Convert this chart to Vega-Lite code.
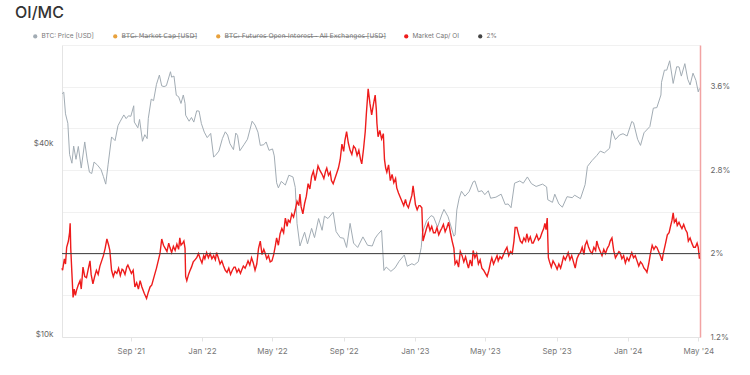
{
  "$schema": "https://vega.github.io/schema/vega-lite/v6.json",
  "width": 638,
  "height": 292,
  "autosize": {"type": "none"},
  "padding": {"left": 62, "top": 45, "right": 50, "bottom": 38},
  "background": "white",
  "config": {"view": {"stroke": null}, "font": "Inter"},
  "title": {"text": "OI/MC", "anchor": "start", "frame": "group", "dx": -47, "dy": 7, "offset": 6, "baseline": "alphabetic", "fontSize": 16, "fontWeight": 500, "color": "#333"},
  "datasets": {
    "price": [
      {"date":"2021-05-06","price":57500},{"date":"2021-05-09","price":58200},{"date":"2021-05-12","price":49700},{"date":"2021-05-16","price":46400},{"date":"2021-05-19","price":37000},{"date":"2021-05-23","price":34700},{"date":"2021-05-26","price":39300},{"date":"2021-05-30","price":35700},{"date":"2021-06-03","price":39200},{"date":"2021-06-08","price":33500},{"date":"2021-06-14","price":40500},{"date":"2021-06-18","price":35800},{"date":"2021-06-22","price":32500},{"date":"2021-06-26","price":32200},{"date":"2021-06-30","price":35000},{"date":"2021-07-06","price":34200},{"date":"2021-07-12","price":33100},{"date":"2021-07-16","price":31500},{"date":"2021-07-20","price":29800},{"date":"2021-07-24","price":34300},{"date":"2021-07-30","price":42000},{"date":"2021-08-05","price":40900},{"date":"2021-08-10","price":45600},{"date":"2021-08-14","price":47100},{"date":"2021-08-20","price":49300},{"date":"2021-08-24","price":48000},{"date":"2021-08-28","price":49000},{"date":"2021-09-01","price":48800},{"date":"2021-09-06","price":52700},{"date":"2021-09-07","price":46800},{"date":"2021-09-13","price":44900},{"date":"2021-09-16","price":47700},{"date":"2021-09-21","price":40700},{"date":"2021-09-25","price":42700},{"date":"2021-09-29","price":41500},{"date":"2021-10-01","price":48100},{"date":"2021-10-06","price":55300},{"date":"2021-10-10","price":54700},{"date":"2021-10-15","price":61600},{"date":"2021-10-20","price":65900},{"date":"2021-10-24","price":60900},{"date":"2021-10-28","price":60600},{"date":"2021-11-01","price":61000},{"date":"2021-11-08","price":67500},{"date":"2021-11-10","price":64900},{"date":"2021-11-14","price":65400},{"date":"2021-11-18","price":56900},{"date":"2021-11-22","price":56300},{"date":"2021-11-26","price":53600},{"date":"2021-11-30","price":57000},{"date":"2021-12-03","price":53600},{"date":"2021-12-04","price":49200},{"date":"2021-12-10","price":47100},{"date":"2021-12-14","price":48400},{"date":"2021-12-18","price":46800},{"date":"2021-12-23","price":50800},{"date":"2021-12-27","price":50700},{"date":"2021-12-31","price":46300},
      {"date":"2022-01-05","price":43500},{"date":"2022-01-10","price":41800},{"date":"2022-01-16","price":43100},{"date":"2022-01-21","price":36300},{"date":"2022-01-24","price":36700},{"date":"2022-01-30","price":37900},{"date":"2022-02-05","price":41500},{"date":"2022-02-10","price":43600},{"date":"2022-02-14","price":42600},{"date":"2022-02-18","price":40000},{"date":"2022-02-24","price":38300},{"date":"2022-02-28","price":43200},{"date":"2022-03-03","price":42500},{"date":"2022-03-07","price":38000},{"date":"2022-03-14","price":39700},{"date":"2022-03-20","price":41300},{"date":"2022-03-28","price":47100},{"date":"2022-04-02","price":45800},{"date":"2022-04-07","price":43500},{"date":"2022-04-11","price":39500},{"date":"2022-04-17","price":39700},{"date":"2022-04-21","price":40500},{"date":"2022-04-26","price":38100},{"date":"2022-05-02","price":38500},{"date":"2022-05-05","price":36600},{"date":"2022-05-09","price":30100},{"date":"2022-05-12","price":29000},{"date":"2022-05-17","price":30400},{"date":"2022-05-24","price":29600},{"date":"2022-05-30","price":31800},{"date":"2022-06-06","price":31400},{"date":"2022-06-10","price":29100},{"date":"2022-06-13","price":22400},{"date":"2022-06-18","price":19000},{"date":"2022-06-22","price":20000},{"date":"2022-06-26","price":21000},{"date":"2022-07-01","price":19300},{"date":"2022-07-08","price":21600},{"date":"2022-07-13","price":20200},{"date":"2022-07-20","price":23200},{"date":"2022-07-26","price":21300},{"date":"2022-07-30","price":23600},{"date":"2022-08-05","price":23200},{"date":"2022-08-14","price":24300},{"date":"2022-08-19","price":21100},{"date":"2022-08-26","price":20200},{"date":"2022-09-01","price":20100},{"date":"2022-09-06","price":18800},{"date":"2022-09-12","price":22400},{"date":"2022-09-18","price":19400},{"date":"2022-09-25","price":18800},{"date":"2022-10-04","price":20300},{"date":"2022-10-12","price":19100},{"date":"2022-10-20","price":19000},{"date":"2022-10-25","price":20100},{"date":"2022-10-29","price":20600},{"date":"2022-11-05","price":21300},{"date":"2022-11-09","price":15900},{"date":"2022-11-13","price":16300},{"date":"2022-11-21","price":15800},{"date":"2022-11-28","price":16200},{"date":"2022-12-05","price":17000},{"date":"2022-12-14","price":17800},{"date":"2022-12-19","price":16400},{"date":"2022-12-27","price":16700},{"date":"2022-12-31","price":16550},
      {"date":"2023-01-07","price":16950},{"date":"2023-01-12","price":18800},{"date":"2023-01-14","price":20900},{"date":"2023-01-21","price":22800},{"date":"2023-01-29","price":23700},{"date":"2023-02-02","price":23500},{"date":"2023-02-09","price":21800},{"date":"2023-02-16","price":23800},{"date":"2023-02-20","price":24800},{"date":"2023-02-27","price":23500},{"date":"2023-03-09","price":20400},{"date":"2023-03-11","price":20600},{"date":"2023-03-14","price":24700},{"date":"2023-03-18","price":26900},{"date":"2023-03-22","price":28300},{"date":"2023-03-28","price":27300},{"date":"2023-04-04","price":28200},{"date":"2023-04-11","price":30300},{"date":"2023-04-14","price":30500},{"date":"2023-04-20","price":28200},{"date":"2023-04-26","price":28400},{"date":"2023-05-01","price":27600},{"date":"2023-05-07","price":28400},{"date":"2023-05-11","price":26900},{"date":"2023-05-20","price":27100},{"date":"2023-05-29","price":27700},{"date":"2023-06-05","price":25700},{"date":"2023-06-10","price":25800},{"date":"2023-06-15","price":25100},{"date":"2023-06-21","price":30000},{"date":"2023-06-30","price":30500},{"date":"2023-07-06","price":30000},{"date":"2023-07-13","price":31400},{"date":"2023-07-20","price":29900},{"date":"2023-07-28","price":29300},{"date":"2023-08-08","price":29800},{"date":"2023-08-15","price":29200},{"date":"2023-08-17","price":26600},{"date":"2023-08-25","price":26100},{"date":"2023-08-29","price":27700},{"date":"2023-09-05","price":25800},{"date":"2023-09-11","price":25200},{"date":"2023-09-19","price":27200},{"date":"2023-09-28","price":27000},{"date":"2023-10-02","price":27500},{"date":"2023-10-12","price":26800},{"date":"2023-10-20","price":29700},{"date":"2023-10-24","price":33900},{"date":"2023-11-01","price":35400},{"date":"2023-11-09","price":36700},{"date":"2023-11-15","price":37900},{"date":"2023-11-22","price":37400},{"date":"2023-12-01","price":38700},{"date":"2023-12-05","price":44000},{"date":"2023-12-11","price":41200},{"date":"2023-12-18","price":42600},{"date":"2023-12-24","price":43000},{"date":"2023-12-31","price":42300},
      {"date":"2024-01-08","price":47000},{"date":"2024-01-11","price":46600},{"date":"2024-01-18","price":41300},{"date":"2024-01-23","price":39500},{"date":"2024-01-29","price":43300},{"date":"2024-02-08","price":45300},{"date":"2024-02-14","price":51800},{"date":"2024-02-20","price":52000},{"date":"2024-02-27","price":57000},{"date":"2024-02-28","price":62500},{"date":"2024-03-04","price":68300},{"date":"2024-03-08","price":68300},{"date":"2024-03-13","price":73100},{"date":"2024-03-19","price":62000},{"date":"2024-03-25","price":70000},{"date":"2024-03-29","price":69900},{"date":"2024-04-02","price":65400},{"date":"2024-04-08","price":71600},{"date":"2024-04-13","price":63900},{"date":"2024-04-17","price":61300},{"date":"2024-04-22","price":66800},{"date":"2024-04-27","price":63400},{"date":"2024-05-01","price":58300},{"date":"2024-05-03","price":59800}
    ],
    "ratio": [
      {"date":"2021-05-06","oi_mc":1.86},{"date":"2021-05-07","oi_mc":1.84},{"date":"2021-05-10","oi_mc":1.95},{"date":"2021-05-12","oi_mc":1.90},{"date":"2021-05-14","oi_mc":2.06},{"date":"2021-05-17","oi_mc":2.12},{"date":"2021-05-19","oi_mc":2.20},{"date":"2021-05-20","oi_mc":2.29},{"date":"2021-05-21","oi_mc":2.05},{"date":"2021-05-23","oi_mc":1.81},{"date":"2021-05-25","oi_mc":1.58},{"date":"2021-05-27","oi_mc":1.66},{"date":"2021-05-29","oi_mc":1.60},{"date":"2021-05-31","oi_mc":1.65},{"date":"2021-06-03","oi_mc":1.70},{"date":"2021-06-06","oi_mc":1.74},{"date":"2021-06-08","oi_mc":1.66},{"date":"2021-06-11","oi_mc":1.87},{"date":"2021-06-14","oi_mc":1.78},{"date":"2021-06-17","oi_mc":1.77},{"date":"2021-06-20","oi_mc":1.85},{"date":"2021-06-23","oi_mc":1.93},{"date":"2021-06-25","oi_mc":1.80},{"date":"2021-06-28","oi_mc":1.71},{"date":"2021-07-01","oi_mc":1.78},{"date":"2021-07-04","oi_mc":1.84},{"date":"2021-07-07","oi_mc":1.80},{"date":"2021-07-10","oi_mc":1.88},{"date":"2021-07-13","oi_mc":1.93},{"date":"2021-07-16","oi_mc":1.98},{"date":"2021-07-19","oi_mc":2.05},{"date":"2021-07-22","oi_mc":2.14},{"date":"2021-07-25","oi_mc":2.08},{"date":"2021-07-27","oi_mc":2.03},{"date":"2021-07-30","oi_mc":1.84},{"date":"2021-08-02","oi_mc":1.78},{"date":"2021-08-05","oi_mc":1.83},{"date":"2021-08-08","oi_mc":1.81},{"date":"2021-08-11","oi_mc":1.86},{"date":"2021-08-14","oi_mc":1.79},{"date":"2021-08-17","oi_mc":1.85},{"date":"2021-08-19","oi_mc":1.84},{"date":"2021-08-22","oi_mc":1.80},{"date":"2021-08-25","oi_mc":1.87},{"date":"2021-08-27","oi_mc":1.89},{"date":"2021-08-30","oi_mc":1.85},{"date":"2021-09-02","oi_mc":1.81},{"date":"2021-09-05","oi_mc":1.84},{"date":"2021-09-08","oi_mc":1.68},{"date":"2021-09-11","oi_mc":1.72},{"date":"2021-09-14","oi_mc":1.66},{"date":"2021-09-17","oi_mc":1.74},{"date":"2021-09-20","oi_mc":1.68},{"date":"2021-09-24","oi_mc":1.62},{"date":"2021-09-28","oi_mc":1.57},{"date":"2021-10-01","oi_mc":1.63},{"date":"2021-10-04","oi_mc":1.68},{"date":"2021-10-07","oi_mc":1.70},{"date":"2021-10-09","oi_mc":1.74},{"date":"2021-10-12","oi_mc":1.80},{"date":"2021-10-15","oi_mc":1.86},{"date":"2021-10-18","oi_mc":1.93},{"date":"2021-10-21","oi_mc":2.00},{"date":"2021-10-24","oi_mc":2.14},{"date":"2021-10-27","oi_mc":2.08},{"date":"2021-10-30","oi_mc":2.05},{"date":"2021-11-02","oi_mc":2.02},{"date":"2021-11-05","oi_mc":2.10},{"date":"2021-11-07","oi_mc":2.06},{"date":"2021-11-10","oi_mc":2.01},{"date":"2021-11-13","oi_mc":2.07},{"date":"2021-11-16","oi_mc":2.03},{"date":"2021-11-19","oi_mc":2.09},{"date":"2021-11-22","oi_mc":2.04},{"date":"2021-11-24","oi_mc":2.15},{"date":"2021-11-26","oi_mc":2.08},{"date":"2021-11-29","oi_mc":2.10},{"date":"2021-12-01","oi_mc":2.12},{"date":"2021-12-03","oi_mc":2.05},{"date":"2021-12-04","oi_mc":1.78},{"date":"2021-12-06","oi_mc":1.74},{"date":"2021-12-09","oi_mc":1.80},{"date":"2021-12-11","oi_mc":1.83},{"date":"2021-12-14","oi_mc":1.87},{"date":"2021-12-17","oi_mc":1.92},{"date":"2021-12-20","oi_mc":1.94},{"date":"2021-12-23","oi_mc":1.96},{"date":"2021-12-26","oi_mc":2.00},{"date":"2021-12-29","oi_mc":1.95},
      {"date":"2022-01-01","oi_mc":1.91},{"date":"2022-01-04","oi_mc":1.98},{"date":"2022-01-06","oi_mc":1.95},{"date":"2022-01-09","oi_mc":2.01},{"date":"2022-01-12","oi_mc":1.96},{"date":"2022-01-15","oi_mc":2.00},{"date":"2022-01-18","oi_mc":1.95},{"date":"2022-01-21","oi_mc":1.98},{"date":"2022-01-24","oi_mc":1.94},{"date":"2022-01-26","oi_mc":2.01},{"date":"2022-01-29","oi_mc":1.96},{"date":"2022-02-01","oi_mc":1.90},{"date":"2022-02-04","oi_mc":1.93},{"date":"2022-02-07","oi_mc":1.88},{"date":"2022-02-10","oi_mc":1.84},{"date":"2022-02-13","oi_mc":1.82},{"date":"2022-02-16","oi_mc":1.86},{"date":"2022-02-19","oi_mc":1.80},{"date":"2022-02-22","oi_mc":1.84},{"date":"2022-02-25","oi_mc":1.87},{"date":"2022-02-27","oi_mc":1.87},{"date":"2022-03-02","oi_mc":1.82},{"date":"2022-03-05","oi_mc":1.85},{"date":"2022-03-08","oi_mc":1.81},{"date":"2022-03-10","oi_mc":1.84},{"date":"2022-03-13","oi_mc":1.88},{"date":"2022-03-16","oi_mc":1.86},{"date":"2022-03-19","oi_mc":1.90},{"date":"2022-03-21","oi_mc":1.93},{"date":"2022-03-24","oi_mc":1.89},{"date":"2022-03-27","oi_mc":1.96},{"date":"2022-03-30","oi_mc":1.91},{"date":"2022-04-02","oi_mc":1.84},{"date":"2022-04-05","oi_mc":1.90},{"date":"2022-04-08","oi_mc":2.05},{"date":"2022-04-11","oi_mc":2.12},{"date":"2022-04-14","oi_mc":1.99},{"date":"2022-04-17","oi_mc":2.04},{"date":"2022-04-19","oi_mc":2.01},{"date":"2022-04-22","oi_mc":1.95},{"date":"2022-04-25","oi_mc":1.98},{"date":"2022-04-28","oi_mc":1.92},{"date":"2022-05-01","oi_mc":1.93},{"date":"2022-05-04","oi_mc":1.99},{"date":"2022-05-07","oi_mc":2.08},{"date":"2022-05-09","oi_mc":2.15},{"date":"2022-05-12","oi_mc":2.08},{"date":"2022-05-15","oi_mc":2.19},{"date":"2022-05-18","oi_mc":2.24},{"date":"2022-05-21","oi_mc":2.20},{"date":"2022-05-24","oi_mc":2.34},{"date":"2022-05-27","oi_mc":2.26},{"date":"2022-05-29","oi_mc":2.32},{"date":"2022-06-01","oi_mc":2.30},{"date":"2022-06-04","oi_mc":2.38},{"date":"2022-06-07","oi_mc":2.35},{"date":"2022-06-10","oi_mc":2.42},{"date":"2022-06-13","oi_mc":2.50},{"date":"2022-06-16","oi_mc":2.46},{"date":"2022-06-18","oi_mc":2.57},{"date":"2022-06-20","oi_mc":2.45},{"date":"2022-06-23","oi_mc":2.38},{"date":"2022-06-26","oi_mc":2.48},{"date":"2022-06-29","oi_mc":2.55},{"date":"2022-07-02","oi_mc":2.67},{"date":"2022-07-05","oi_mc":2.62},{"date":"2022-07-08","oi_mc":2.74},{"date":"2022-07-11","oi_mc":2.79},{"date":"2022-07-14","oi_mc":2.70},{"date":"2022-07-17","oi_mc":2.78},{"date":"2022-07-19","oi_mc":2.84},{"date":"2022-07-22","oi_mc":2.80},{"date":"2022-07-26","oi_mc":2.76},{"date":"2022-07-29","oi_mc":2.72},{"date":"2022-08-01","oi_mc":2.79},{"date":"2022-08-03","oi_mc":2.82},{"date":"2022-08-06","oi_mc":2.75},{"date":"2022-08-09","oi_mc":2.78},{"date":"2022-08-11","oi_mc":2.70},{"date":"2022-08-14","oi_mc":2.67},{"date":"2022-08-17","oi_mc":2.72},{"date":"2022-08-20","oi_mc":2.77},{"date":"2022-08-23","oi_mc":2.82},{"date":"2022-08-26","oi_mc":2.90},{"date":"2022-08-29","oi_mc":3.05},{"date":"2022-09-01","oi_mc":2.98},{"date":"2022-09-03","oi_mc":3.08},{"date":"2022-09-06","oi_mc":3.17},{"date":"2022-09-09","oi_mc":3.06},{"date":"2022-09-12","oi_mc":2.99},{"date":"2022-09-15","oi_mc":2.95},{"date":"2022-09-18","oi_mc":3.03},{"date":"2022-09-21","oi_mc":3.01},{"date":"2022-09-24","oi_mc":2.94},{"date":"2022-09-27","oi_mc":2.99},{"date":"2022-09-30","oi_mc":2.90},{"date":"2022-10-02","oi_mc":2.86},{"date":"2022-10-05","oi_mc":3.00},{"date":"2022-10-08","oi_mc":3.17},{"date":"2022-10-10","oi_mc":3.35},{"date":"2022-10-13","oi_mc":3.58},{"date":"2022-10-16","oi_mc":3.44},{"date":"2022-10-19","oi_mc":3.33},{"date":"2022-10-22","oi_mc":3.43},{"date":"2022-10-25","oi_mc":3.52},{"date":"2022-10-27","oi_mc":3.38},{"date":"2022-10-28","oi_mc":3.25},{"date":"2022-10-30","oi_mc":3.12},{"date":"2022-11-02","oi_mc":3.18},{"date":"2022-11-05","oi_mc":3.10},{"date":"2022-11-08","oi_mc":3.15},{"date":"2022-11-10","oi_mc":2.90},{"date":"2022-11-12","oi_mc":2.82},{"date":"2022-11-14","oi_mc":2.78},{"date":"2022-11-17","oi_mc":2.85},{"date":"2022-11-20","oi_mc":2.70},{"date":"2022-11-23","oi_mc":2.76},{"date":"2022-11-26","oi_mc":2.68},{"date":"2022-11-29","oi_mc":2.72},{"date":"2022-12-01","oi_mc":2.63},{"date":"2022-12-04","oi_mc":2.58},{"date":"2022-12-07","oi_mc":2.54},{"date":"2022-12-10","oi_mc":2.50},{"date":"2022-12-13","oi_mc":2.46},{"date":"2022-12-16","oi_mc":2.52},{"date":"2022-12-18","oi_mc":2.47},{"date":"2022-12-21","oi_mc":2.44},{"date":"2022-12-24","oi_mc":2.50},{"date":"2022-12-27","oi_mc":2.56},{"date":"2022-12-29","oi_mc":2.65},
      {"date":"2023-01-01","oi_mc":2.52},{"date":"2023-01-02","oi_mc":2.47},{"date":"2023-01-05","oi_mc":2.42},{"date":"2023-01-08","oi_mc":2.46},{"date":"2023-01-10","oi_mc":2.46},{"date":"2023-01-13","oi_mc":2.44},{"date":"2023-01-15","oi_mc":2.12},{"date":"2023-01-18","oi_mc":2.18},{"date":"2023-01-21","oi_mc":2.24},{"date":"2023-01-24","oi_mc":2.29},{"date":"2023-01-27","oi_mc":2.22},{"date":"2023-01-30","oi_mc":2.26},{"date":"2023-02-02","oi_mc":2.20},{"date":"2023-02-05","oi_mc":2.20},{"date":"2023-02-08","oi_mc":2.25},{"date":"2023-02-11","oi_mc":2.18},{"date":"2023-02-14","oi_mc":2.22},{"date":"2023-02-16","oi_mc":2.24},{"date":"2023-02-19","oi_mc":2.28},{"date":"2023-02-22","oi_mc":2.21},{"date":"2023-02-25","oi_mc":2.25},{"date":"2023-02-28","oi_mc":2.30},{"date":"2023-03-03","oi_mc":2.20},{"date":"2023-03-06","oi_mc":2.12},{"date":"2023-03-09","oi_mc":2.05},{"date":"2023-03-11","oi_mc":1.90},{"date":"2023-03-14","oi_mc":1.93},{"date":"2023-03-17","oi_mc":1.87},{"date":"2023-03-20","oi_mc":2.02},{"date":"2023-03-23","oi_mc":1.98},{"date":"2023-03-26","oi_mc":1.92},{"date":"2023-03-29","oi_mc":1.97},{"date":"2023-04-01","oi_mc":1.90},{"date":"2023-04-03","oi_mc":1.86},{"date":"2023-04-06","oi_mc":1.94},{"date":"2023-04-09","oi_mc":1.88},{"date":"2023-04-11","oi_mc":2.03},{"date":"2023-04-14","oi_mc":1.96},{"date":"2023-04-17","oi_mc":2.00},{"date":"2023-04-20","oi_mc":1.90},{"date":"2023-04-23","oi_mc":1.94},{"date":"2023-04-26","oi_mc":1.86},{"date":"2023-04-29","oi_mc":1.84},{"date":"2023-05-02","oi_mc":1.81},{"date":"2023-05-05","oi_mc":1.78},{"date":"2023-05-08","oi_mc":1.84},{"date":"2023-05-11","oi_mc":1.92},{"date":"2023-05-13","oi_mc":1.96},{"date":"2023-05-16","oi_mc":1.90},{"date":"2023-05-19","oi_mc":1.94},{"date":"2023-05-22","oi_mc":1.98},{"date":"2023-05-24","oi_mc":1.93},{"date":"2023-05-27","oi_mc":1.97},{"date":"2023-05-30","oi_mc":1.95},{"date":"2023-06-02","oi_mc":1.99},{"date":"2023-06-05","oi_mc":2.03},{"date":"2023-06-08","oi_mc":2.06},{"date":"2023-06-11","oi_mc":1.98},{"date":"2023-06-14","oi_mc":2.02},{"date":"2023-06-17","oi_mc":2.00},{"date":"2023-06-20","oi_mc":2.12},{"date":"2023-06-22","oi_mc":2.25},{"date":"2023-06-25","oi_mc":2.25},{"date":"2023-06-28","oi_mc":2.18},{"date":"2023-07-01","oi_mc":2.12},{"date":"2023-07-04","oi_mc":2.10},{"date":"2023-07-07","oi_mc":2.15},{"date":"2023-07-10","oi_mc":2.12},{"date":"2023-07-12","oi_mc":2.19},{"date":"2023-07-15","oi_mc":2.12},{"date":"2023-07-18","oi_mc":2.16},{"date":"2023-07-21","oi_mc":2.10},{"date":"2023-07-23","oi_mc":2.10},{"date":"2023-07-26","oi_mc":2.14},{"date":"2023-07-29","oi_mc":2.18},{"date":"2023-08-01","oi_mc":2.13},{"date":"2023-08-04","oi_mc":2.15},{"date":"2023-08-07","oi_mc":2.20},{"date":"2023-08-10","oi_mc":2.24},{"date":"2023-08-12","oi_mc":2.29},{"date":"2023-08-14","oi_mc":2.23},{"date":"2023-08-16","oi_mc":2.34},{"date":"2023-08-18","oi_mc":1.96},{"date":"2023-08-20","oi_mc":1.92},{"date":"2023-08-23","oi_mc":1.87},{"date":"2023-08-26","oi_mc":1.93},{"date":"2023-08-30","oi_mc":1.89},{"date":"2023-09-02","oi_mc":1.85},{"date":"2023-09-05","oi_mc":1.90},{"date":"2023-09-08","oi_mc":1.86},{"date":"2023-09-10","oi_mc":1.90},{"date":"2023-09-13","oi_mc":1.97},{"date":"2023-09-16","oi_mc":1.94},{"date":"2023-09-19","oi_mc":1.98},{"date":"2023-09-21","oi_mc":2.01},{"date":"2023-09-24","oi_mc":1.94},{"date":"2023-09-27","oi_mc":1.98},{"date":"2023-09-30","oi_mc":1.92},{"date":"2023-10-03","oi_mc":1.86},{"date":"2023-10-06","oi_mc":1.95},{"date":"2023-10-09","oi_mc":1.99},{"date":"2023-10-12","oi_mc":2.01},{"date":"2023-10-15","oi_mc":2.06},{"date":"2023-10-18","oi_mc":1.99},{"date":"2023-10-20","oi_mc":2.08},{"date":"2023-10-23","oi_mc":2.12},{"date":"2023-10-26","oi_mc":2.06},{"date":"2023-10-29","oi_mc":2.02},{"date":"2023-11-01","oi_mc":2.00},{"date":"2023-11-04","oi_mc":2.06},{"date":"2023-11-07","oi_mc":2.03},{"date":"2023-11-09","oi_mc":2.12},{"date":"2023-11-12","oi_mc":2.06},{"date":"2023-11-15","oi_mc":2.02},{"date":"2023-11-18","oi_mc":1.98},{"date":"2023-11-21","oi_mc":2.04},{"date":"2023-11-24","oi_mc":2.00},{"date":"2023-11-27","oi_mc":2.05},{"date":"2023-11-30","oi_mc":2.08},{"date":"2023-12-02","oi_mc":2.12},{"date":"2023-12-05","oi_mc":2.15},{"date":"2023-12-08","oi_mc":2.03},{"date":"2023-12-11","oi_mc":1.96},{"date":"2023-12-14","oi_mc":1.99},{"date":"2023-12-17","oi_mc":2.02},{"date":"2023-12-19","oi_mc":2.01},{"date":"2023-12-22","oi_mc":1.95},{"date":"2023-12-25","oi_mc":1.98},{"date":"2023-12-28","oi_mc":1.91},{"date":"2023-12-31","oi_mc":1.96},
      {"date":"2024-01-03","oi_mc":1.93},{"date":"2024-01-06","oi_mc":1.98},{"date":"2024-01-08","oi_mc":2.01},{"date":"2024-01-11","oi_mc":1.96},{"date":"2024-01-14","oi_mc":1.98},{"date":"2024-01-17","oi_mc":1.93},{"date":"2024-01-20","oi_mc":1.88},{"date":"2024-01-23","oi_mc":1.92},{"date":"2024-01-26","oi_mc":1.90},{"date":"2024-01-29","oi_mc":1.86},{"date":"2024-02-01","oi_mc":1.84},{"date":"2024-02-03","oi_mc":1.82},{"date":"2024-02-06","oi_mc":1.90},{"date":"2024-02-09","oi_mc":2.00},{"date":"2024-02-12","oi_mc":2.08},{"date":"2024-02-15","oi_mc":2.04},{"date":"2024-02-18","oi_mc":2.07},{"date":"2024-02-20","oi_mc":2.06},{"date":"2024-02-23","oi_mc":2.02},{"date":"2024-02-26","oi_mc":1.98},{"date":"2024-02-29","oi_mc":1.93},{"date":"2024-03-02","oi_mc":2.00},{"date":"2024-03-04","oi_mc":2.05},{"date":"2024-03-06","oi_mc":2.10},{"date":"2024-03-09","oi_mc":2.18},{"date":"2024-03-12","oi_mc":2.20},{"date":"2024-03-14","oi_mc":2.25},{"date":"2024-03-17","oi_mc":2.32},{"date":"2024-03-19","oi_mc":2.39},{"date":"2024-03-21","oi_mc":2.30},{"date":"2024-03-24","oi_mc":2.33},{"date":"2024-03-26","oi_mc":2.27},{"date":"2024-03-29","oi_mc":2.30},{"date":"2024-04-01","oi_mc":2.26},{"date":"2024-04-03","oi_mc":2.24},{"date":"2024-04-06","oi_mc":2.28},{"date":"2024-04-09","oi_mc":2.23},{"date":"2024-04-12","oi_mc":2.20},{"date":"2024-04-14","oi_mc":2.12},{"date":"2024-04-17","oi_mc":2.15},{"date":"2024-04-20","oi_mc":2.10},{"date":"2024-04-23","oi_mc":2.06},{"date":"2024-04-26","oi_mc":2.06},{"date":"2024-04-29","oi_mc":2.10},{"date":"2024-05-01","oi_mc":2.06},{"date":"2024-05-03","oi_mc":1.95}
    ]
  },
  "layer": [
    {
      "data": {"name": "price"},
      "mark": {"type": "line", "strokeWidth": 1},
      "encoding": {
        "x": {"field": "date", "type": "temporal", "scale": {"domain": ["2021-05-06", "2024-05-04"]},
          "axis": {"title": null, "format": "%b '%y", "tickCount": {"interval": "month", "step": 4}, "labelColor": "#777", "labelFontSize": 8, "domainColor": "#e4e4e4", "tickColor": "#e4e4e4", "tickSize": 4, "labelPadding": 6, "grid": false}},
        "y": {"field": "price", "type": "quantitative", "scale": {"type": "log", "domain": [9800, 82000], "nice": false},
          "axis": {"title": null, "values": [10000, 40000], "format": "$~s", "labelColor": "#666", "labelFontSize": 8, "domainColor": "#e4e4e4", "ticks": false, "grid": false, "labelPadding": 9}},
        "color": {"datum": "BTC: Price [USD]", "type": "nominal",
          "scale": {"domain": ["BTC: Price [USD]", "BTC: Market Cap [USD]", "BTC: Futures Open Interest - All Exchanges [USD]", "Market Cap/ OI", "2%"], "range": ["#a2acb4", "#e8a13c", "#e8a13c", "#ee1c1c", "#444444"]},
          "legend": {"title": null, "orient": "none", "legendX": -30, "legendY": -12, "direction": "horizontal", "labelFont": "Inter, 'DejaVu Sans', sans-serif", "labelFontSize": 6.5, "labelColor": "#777", "symbolSize": 18, "columnPadding": 18, "labelOffset": 3,
            "labelExpr": "(indexof(datum.label, 'Market Cap [') >= 0 || indexof(datum.label, 'Futures') >= 0) ? replace(datum.label, regexp('(.)', 'g'), '$1\u0336') : datum.label",
            "encode": {"symbols": {"update": {"fill": {"scale": "color", "field": "value"}, "shape": {"value": "circle"}, "strokeWidth": {"value": 0}}}}}}
      }
    },
    {
      "layer": [
        {
          "data": {"name": "ratio"},
          "mark": {"type": "line", "strokeWidth": 1.4},
          "encoding": {
            "x": {"field": "date", "type": "temporal"},
            "y": {"field": "oi_mc", "type": "quantitative", "scale": {"domain": [1.2, 4.0], "nice": false, "zero": false},
              "axis": {"orient": "right", "title": null, "values": [1.2, 1.6, 2.0, 2.4, 2.8, 3.2, 3.6, 4.0],
                "labelExpr": "indexof(['1.2','2','2.8','3.6'], format(datum.value, '.1~f')) >= 0 ? format(datum.value, '.1~f') + '%' : ''",
                "labelColor": "#666", "labelFontSize": 8, "labelPadding": 10, "ticks": false, "grid": true, "gridColor": "#f1f1f1", "domainColor": "#f2a3a3", "domainWidth": 1.5}},
            "color": {"datum": "Market Cap/ OI", "type": "nominal"}
          }
        },
        {
          "data": {"values": [{}]},
          "mark": {"type": "rule", "strokeWidth": 1},
          "encoding": {
            "y": {"datum": 2},
            "color": {"datum": "2%", "type": "nominal"}
          }
        }
      ]
    }
  ],
  "resolve": {"scale": {"y": "independent"}}
}
